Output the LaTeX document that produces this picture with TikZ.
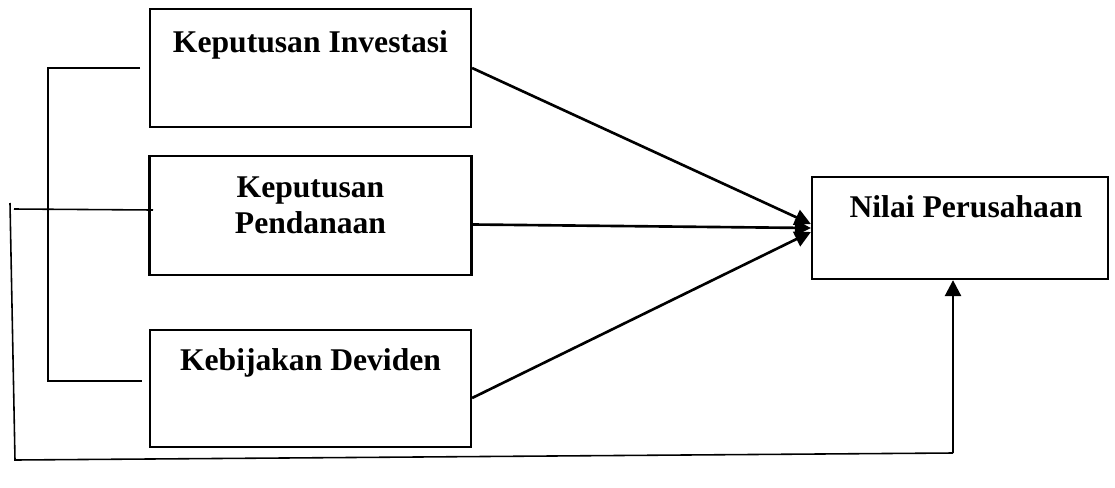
\documentclass[tikz,border=0pt]{standalone}
\usepackage{fontspec}
\setmainfont{Liberation Serif}
\usetikzlibrary{arrows.meta}

\newcommand{\boxMidX}{310.5}
\newcommand{\bracketX}{48}

\begin{document}
\begin{tikzpicture}[x=0.02cm,y=-0.02cm,
    varbox/.style={draw,line width=1.3pt,inner sep=0},
    varlabel/.style={inner sep=0,font=\bfseries\fontsize{18}{21}\selectfont},
    link/.style={line width=1.5pt,-{Triangle[length=0.32cm,width=0.32cm]}},
    bracket/.style={line width=0.9pt}]
    \useasboundingbox (0,0) rectangle (1115,487);
    % variable boxes
    \node[varbox,minimum width=6.42cm,minimum height=2.36cm] (invest) at (\boxMidX,68) {};
    \node[varbox,minimum width=6.44cm,minimum height=2.38cm] (dana) at (\boxMidX,215.5) {};
    \node[varbox,minimum width=6.42cm,minimum height=2.34cm] (deviden) at (\boxMidX,388.5) {};
    \node[varbox,minimum width=5.92cm,minimum height=2.04cm] (nilai) at (960,228) {};
    \node[varlabel,anchor=base] (invest_text) at (\boxMidX,52) {Keputusan Investasi};
    \node[varlabel,anchor=north,align=center] (dana_text) at (\boxMidX,176) {Keputusan\\Pendanaan};
    \node[varlabel,anchor=base] (deviden_text) at (\boxMidX,370) {Kebijakan Deviden};
    \node[varlabel,anchor=base] (nilai_text) at (966,217) {Nilai Perusahaan};
    % partial effects
    \draw[link] (invest.east) -- ([yshift=0.08cm]nilai.west);
    \draw[link] ([yshift=-0.18cm]dana.east) -- (nilai.west);
    \draw[link] ([yshift=-0.19cm]deviden.east) -- ([yshift=-0.08cm]nilai.west);
    % simultaneous effect
    \coordinate (brTop) at (140,68);
    \coordinate (brBot) at (142,381);
    \coordinate (brMid) at (153,210);
    \coordinate (outTop) at (10,203);
    \coordinate (outBot) at (15,460);
    \coordinate (outTurn) at (953,453);
    \draw[bracket] (brTop) -- (\bracketX,68) -- (\bracketX,381) -- (brBot);
    \draw[bracket] (14,209) -- (brMid);
    \draw[bracket] (outTop) -- (outBot) -- (outTurn);
    \draw[link] (outTurn) -- (outTurn |- nilai.south);
\end{tikzpicture}
\end{document}
